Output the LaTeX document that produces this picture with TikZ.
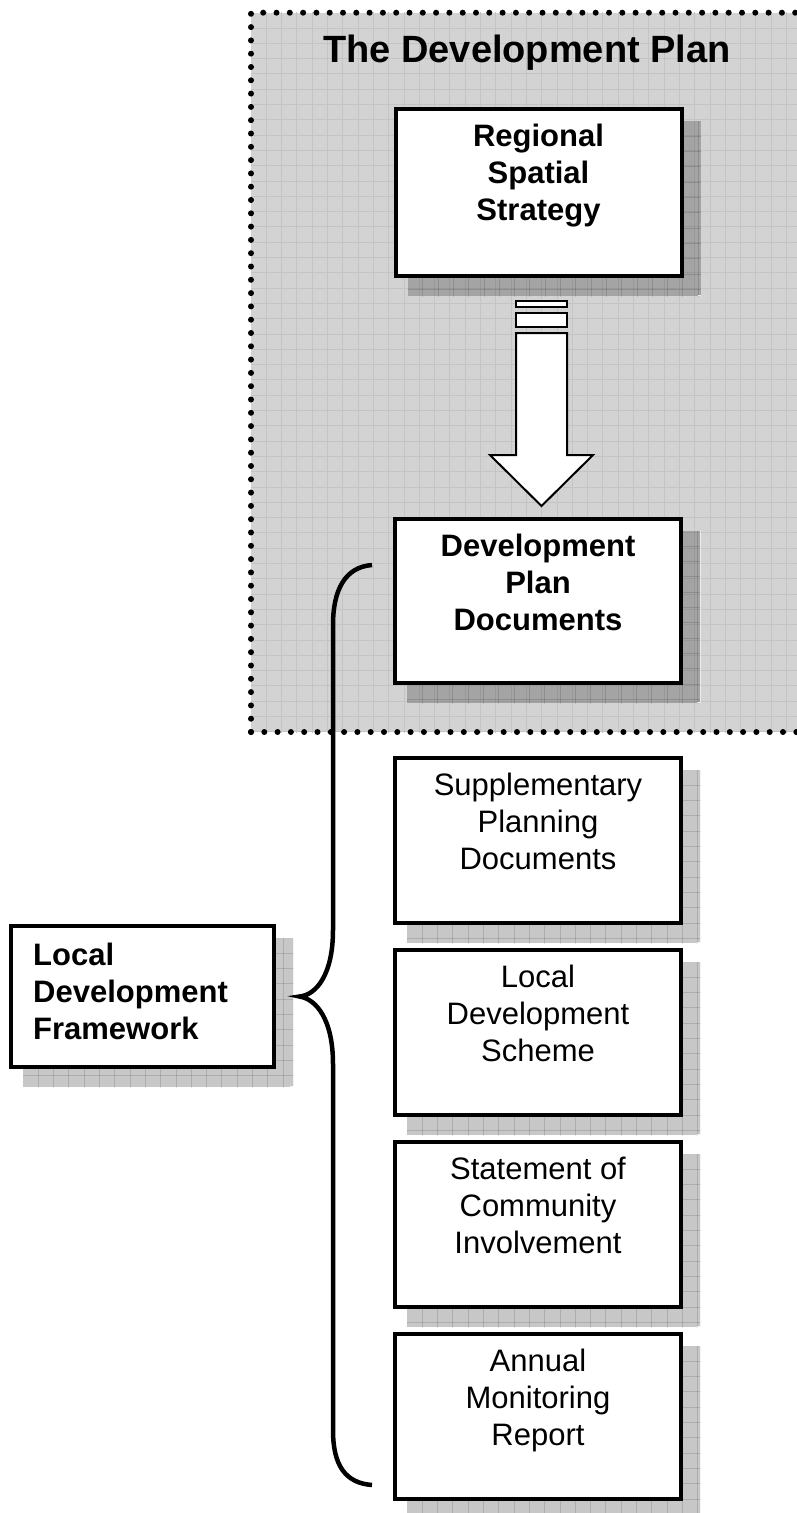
\documentclass[tikz,border=0pt]{standalone}
\usepackage{fontspec}
\setmainfont{Liberation Sans}
\definecolor{regfill}{RGB}{211,211,211}
\definecolor{regline}{RGB}{196,196,196}
\pgfdeclarelayer{regionlayer}
\pgfdeclarelayer{shadelayer}
\pgfsetlayers{regionlayer,shadelayer,main}
\newcommand\boxstrut{\rule{0pt}{25pt}}
\newcommand\dropshade[1]{%
  \begin{pgfonlayer}{shadelayer}
  \begin{scope}
    \path[fill=black,fill opacity=0.22] ([shift={(14,14)}]#1.north west) rectangle ([shift={(18,18)}]#1.south east);
    \clip ([shift={(14,14)}]#1.north west) rectangle ([shift={(18,18)}]#1.south east);
    \foreach \k in {1,...,22} {
      \draw[shadeline] ([shift={(14+\k*15.3,0)}]#1.north west) -- ([shift={(14+\k*15.3,400)}]#1.north west);
      \draw[shadeline] ([shift={(0,14+\k*15.3)}]#1.north west) -- ([shift={(400,14+\k*15.3)}]#1.north west);
    }
    \draw[draw=white, draw opacity=0.8, line width=1pt] ([shift={(14,17.5)}]#1.south east) -- ([shift={(17.5,17.5)}]#1.south east) -- ([shift={(17.5,14)}]#1.north east);
  \end{scope}
  \end{pgfonlayer}}
\tikzset{
  boxshape/.style={draw=black, line width=4pt, fill=white, rectangle, inner sep=0pt,
    minimum width=286pt, minimum height=165pt},
  boldtext/.style={inner sep=0pt, align=center, anchor=north, font=\bfseries\fontsize{31}{37}\selectfont},
  plaintext/.style={inner sep=0pt, align=center, anchor=north, font=\fontsize{31}{37}\selectfont},
  shadeline/.style={draw=black, draw opacity=0.13, line width=1pt},
  gridline/.style={draw=regline, line width=1pt},
  dotline/.style={line width=6pt, line cap=round, dash pattern=on 0pt off 13.3pt},
  arrowline/.style={draw=black, line width=2pt, fill=white, line join=miter},
  bracestyle/.style={draw=black, line width=4.5pt, line cap=butt}
}
\begin{document}
\begin{tikzpicture}[x=1pt,y=-1pt]
\useasboundingbox (0,0) rectangle (796,1513);
% region
\begin{pgfonlayer}{regionlayer}
  \fill[regfill] (251,12.7) rectangle (800,732);
  \begin{scope}
    \clip (251,12.7) rectangle (800,732);
    \foreach \k in {1,...,36} \draw[gridline] ({251+\k*15.3},0) -- ({251+\k*15.3},740);
    \foreach \k in {1,...,47} \draw[gridline] (240,{12.7+\k*15.3}) -- (800,{12.7+\k*15.3});
  \end{scope}
\end{pgfonlayer}
\draw[dotline] (251,732) -- (251,12.7) -- (800,12.7);
\draw[dotline] (251,732) -- (800,732);

\node[font=\bfseries\fontsize{38}{44}\selectfont, inner sep=0pt, anchor=base] (title) at (527,62) {The Development Plan};

% boxes
\node[boxshape, minimum height=167pt] (rss) at (538.5,192.5) {};
\node[boxshape, minimum height=164pt] (dpd) at (538,601) {};
\node[boxshape] (spd) at (538,840.5) {};
\node[boxshape] (lds) at (538,1032.5) {};
\node[boxshape] (sci) at (538,1224.5) {};
\node[boxshape] (amr) at (538,1416.5) {};
\node[boxshape, minimum width=263pt, minimum height=141pt] (ldf) at (142.5,996.5) {};

\dropshade{rss}
\dropshade{dpd}
\dropshade{spd}
\dropshade{lds}
\dropshade{sci}
\dropshade{amr}
\dropshade{ldf}

% texts
\node[boldtext] (rsst) at ([shift={(0,14)}]rss.north) {\boxstrut Regional\\Spatial\\Strategy};
\node[boldtext] (dpdt) at ([shift={(0,14)}]dpd.north) {\boxstrut Development\\Plan\\Documents};
\node[plaintext] (spdt) at ([shift={(0,14)}]spd.north) {\boxstrut Supplementary\\Planning\\Documents};
\node[plaintext] (ldst) at ([shift={(0,14)}]lds.north) {\boxstrut Local\\Development\\Scheme};
\node[plaintext] (scit) at ([shift={(0,14)}]sci.north) {\boxstrut Statement of\\Community\\Involvement};
\node[plaintext] (amrt) at ([shift={(0,14)}]amr.north) {\boxstrut Annual\\Monitoring\\Report};
\node[boldtext, align=left, anchor=north west] (ldft) at (33,940) {\boxstrut Local\\Development\\Framework};

% block arrow
\draw[arrowline] (516,301) rectangle (567,307);
\draw[arrowline] (516,313) rectangle (567,327);
\draw[arrowline] (516,333) -- (567,333) -- (567,455) -- (593,455) -- (541.5,506) -- (490,455) -- (516,455) -- cycle;

% brace
\coordinate (btip) at ([shift={(23.5,0)}]ldf.east);
\draw[bracestyle] (372,565) .. controls (345,567) and (333,590) .. (333,625) -- (333,930)
  .. controls (333,975) and (316,995) .. (btip)
  .. controls (316,999) and (333,1019) .. (333,1064) -- (333,1430)
  .. controls (333,1465) and (345,1483) .. (372,1485);
\end{tikzpicture}
\end{document}
